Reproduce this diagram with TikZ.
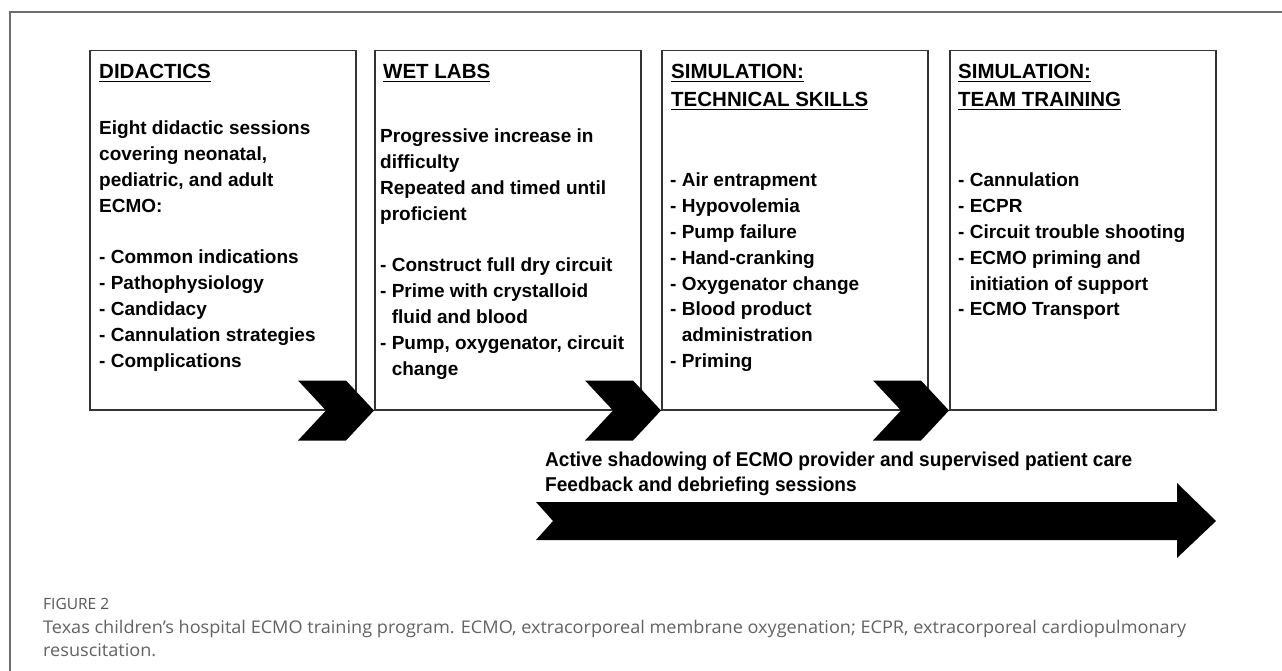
\documentclass[tikz,border=0pt]{standalone}
\usepackage{fontspec}
\usepackage{graphicx}
\setmainfont{Liberation Sans}
\newfontfamily\capfont{Open Sans}
\usetikzlibrary{calc}
\definecolor{boxline}{HTML}{333333}
\definecolor{framegray}{HTML}{6E6E6E}
\definecolor{captxt}{HTML}{626262}
\definecolor{capgray}{HTML}{555555}
\newcommand\myul[1]{\setbox0\hbox{#1}\rlap{\rule[-3pt]{\wd0}{1.3pt}}\box0}
\begin{document}
\begin{tikzpicture}[x=1pt,y=-1pt,
  stage/.style={draw=boxline, line width=1.5pt, fill=white, minimum width=266pt, minimum height=359pt, inner sep=0pt, anchor=north west},
  ttext/.style={anchor=base west, inner sep=0pt, font=\fontsize{20.5}{28}\selectfont\bfseries, text=black},
  btext/.style={anchor=base west, inner sep=0pt, font=\fontsize{19}{25.8}\selectfont\bfseries, text=black},
  chev/.style={fill=black}]
\useasboundingbox (0,0) rectangle (1282,671);
\fill[white] (0,0) rectangle (1282,671);
\draw[framegray, line width=1.3pt] (10,671) -- (10,12) -- (1282,12);

% stage boxes
\node[stage] (b1) at (89,50) {};
\node[stage] (b2) at (374,50) {};
\node[stage] (b3) at (661,50) {};
\node[stage] (b4) at (949,50) {};

% titles
\node[ttext] (t1) at (99,79) {\myul{DIDACTICS}};
\node[ttext] (t2) at (383,79) {\myul{WET LABS}};
\node[ttext] (t3) at (671,79) {\begin{tabular}[t]{@{}l@{}}\myul{SIMULATION:}\\\myul{TECHNICAL SKILLS}\end{tabular}};
\node[ttext] (t4) at (958,79) {\begin{tabular}[t]{@{}l@{}}\myul{SIMULATION:}\\\myul{TEAM TRAINING}\end{tabular}};

% bodies
\node[btext] (d1) at (99,135) {\begin{tabular}[t]{@{}l@{}}Eight didactic sessions\\covering neonatal,\\pediatric, and adult\\ECMO:\\ \\- Common indications\\- Pathophysiology\\- Candidacy\\- Cannulation strategies\\- Complications\end{tabular}};
\node[btext] (d2) at (380,143) {\begin{tabular}[t]{@{}l@{}}Progressive increase in\\difficulty\\Repeated and timed until\\proficient\\ \\- Construct full dry circuit\\- Prime with crystalloid\\\hphantom{- }fluid and blood\\- Pump, oxygenator, circuit\\\hphantom{- }change\end{tabular}};
\node[btext] (d3) at (670,187) {\begin{tabular}[t]{@{}l@{}}- Air entrapment\\- Hypovolemia\\- Pump failure\\- Hand-cranking\\- Oxygenator change\\- Blood product\\\hphantom{- }administration\\- Priming\end{tabular}};
\node[btext] (d4) at (958,187) {\begin{tabular}[t]{@{}l@{}}- Cannulation\\- ECPR\\- Circuit trouble shooting\\- ECMO priming and\\\hphantom{- }initiation of support\\- ECMO Transport\end{tabular}};

% chevrons between stages
\fill[chev, shift={(b2.south west)}] (0,0) -- (-28,-30) -- (-76,-30) -- (-48,0) -- (-76,30) -- (-28,30) -- cycle;
\fill[chev, shift={(b3.south west)}] (0,0) -- (-28,-30) -- (-76,-30) -- (-48,0) -- (-76,30) -- (-28,30) -- cycle;
\fill[chev, shift={(b4.south west)}] (0,0) -- (-28,-30) -- (-76,-30) -- (-48,0) -- (-76,30) -- (-28,30) -- cycle;

% long arrow
\fill[black] (536,502) -- (1177,502) -- (1177,483) -- (1216,521) -- (1177,558) -- (1177,540) -- (536,540) -- (553,521) -- cycle;
\node[anchor=base west, inner sep=0pt, font=\fontsize{20}{25}\selectfont\bfseries] (shadow) at (545,466) {\resizebox{587pt}{\height}{\begin{tabular}[t]{@{}l@{}}Active shadowing of ECMO provider and supervised patient care\\Feedback and debriefing sessions\end{tabular}}};

% caption
\node[anchor=base west, inner sep=0pt, font=\capfont\fontsize{15.5}{17}\selectfont, text=capgray] (fig) at (43,609) {FIGURE 2};
\node[anchor=base west, inner sep=0pt, font=\capfont\fontsize{17.5}{23}\selectfont, text=captxt] (cap) at (43,633) {\resizebox{1143pt}{\height}{\begin{tabular}[t]{@{}l@{}}Texas children’s hospital ECMO training program. ECMO, extracorporeal membrane oxygenation; ECPR, extracorporeal cardiopulmonary\\resuscitation.\end{tabular}}};
\end{tikzpicture}
\end{document}
